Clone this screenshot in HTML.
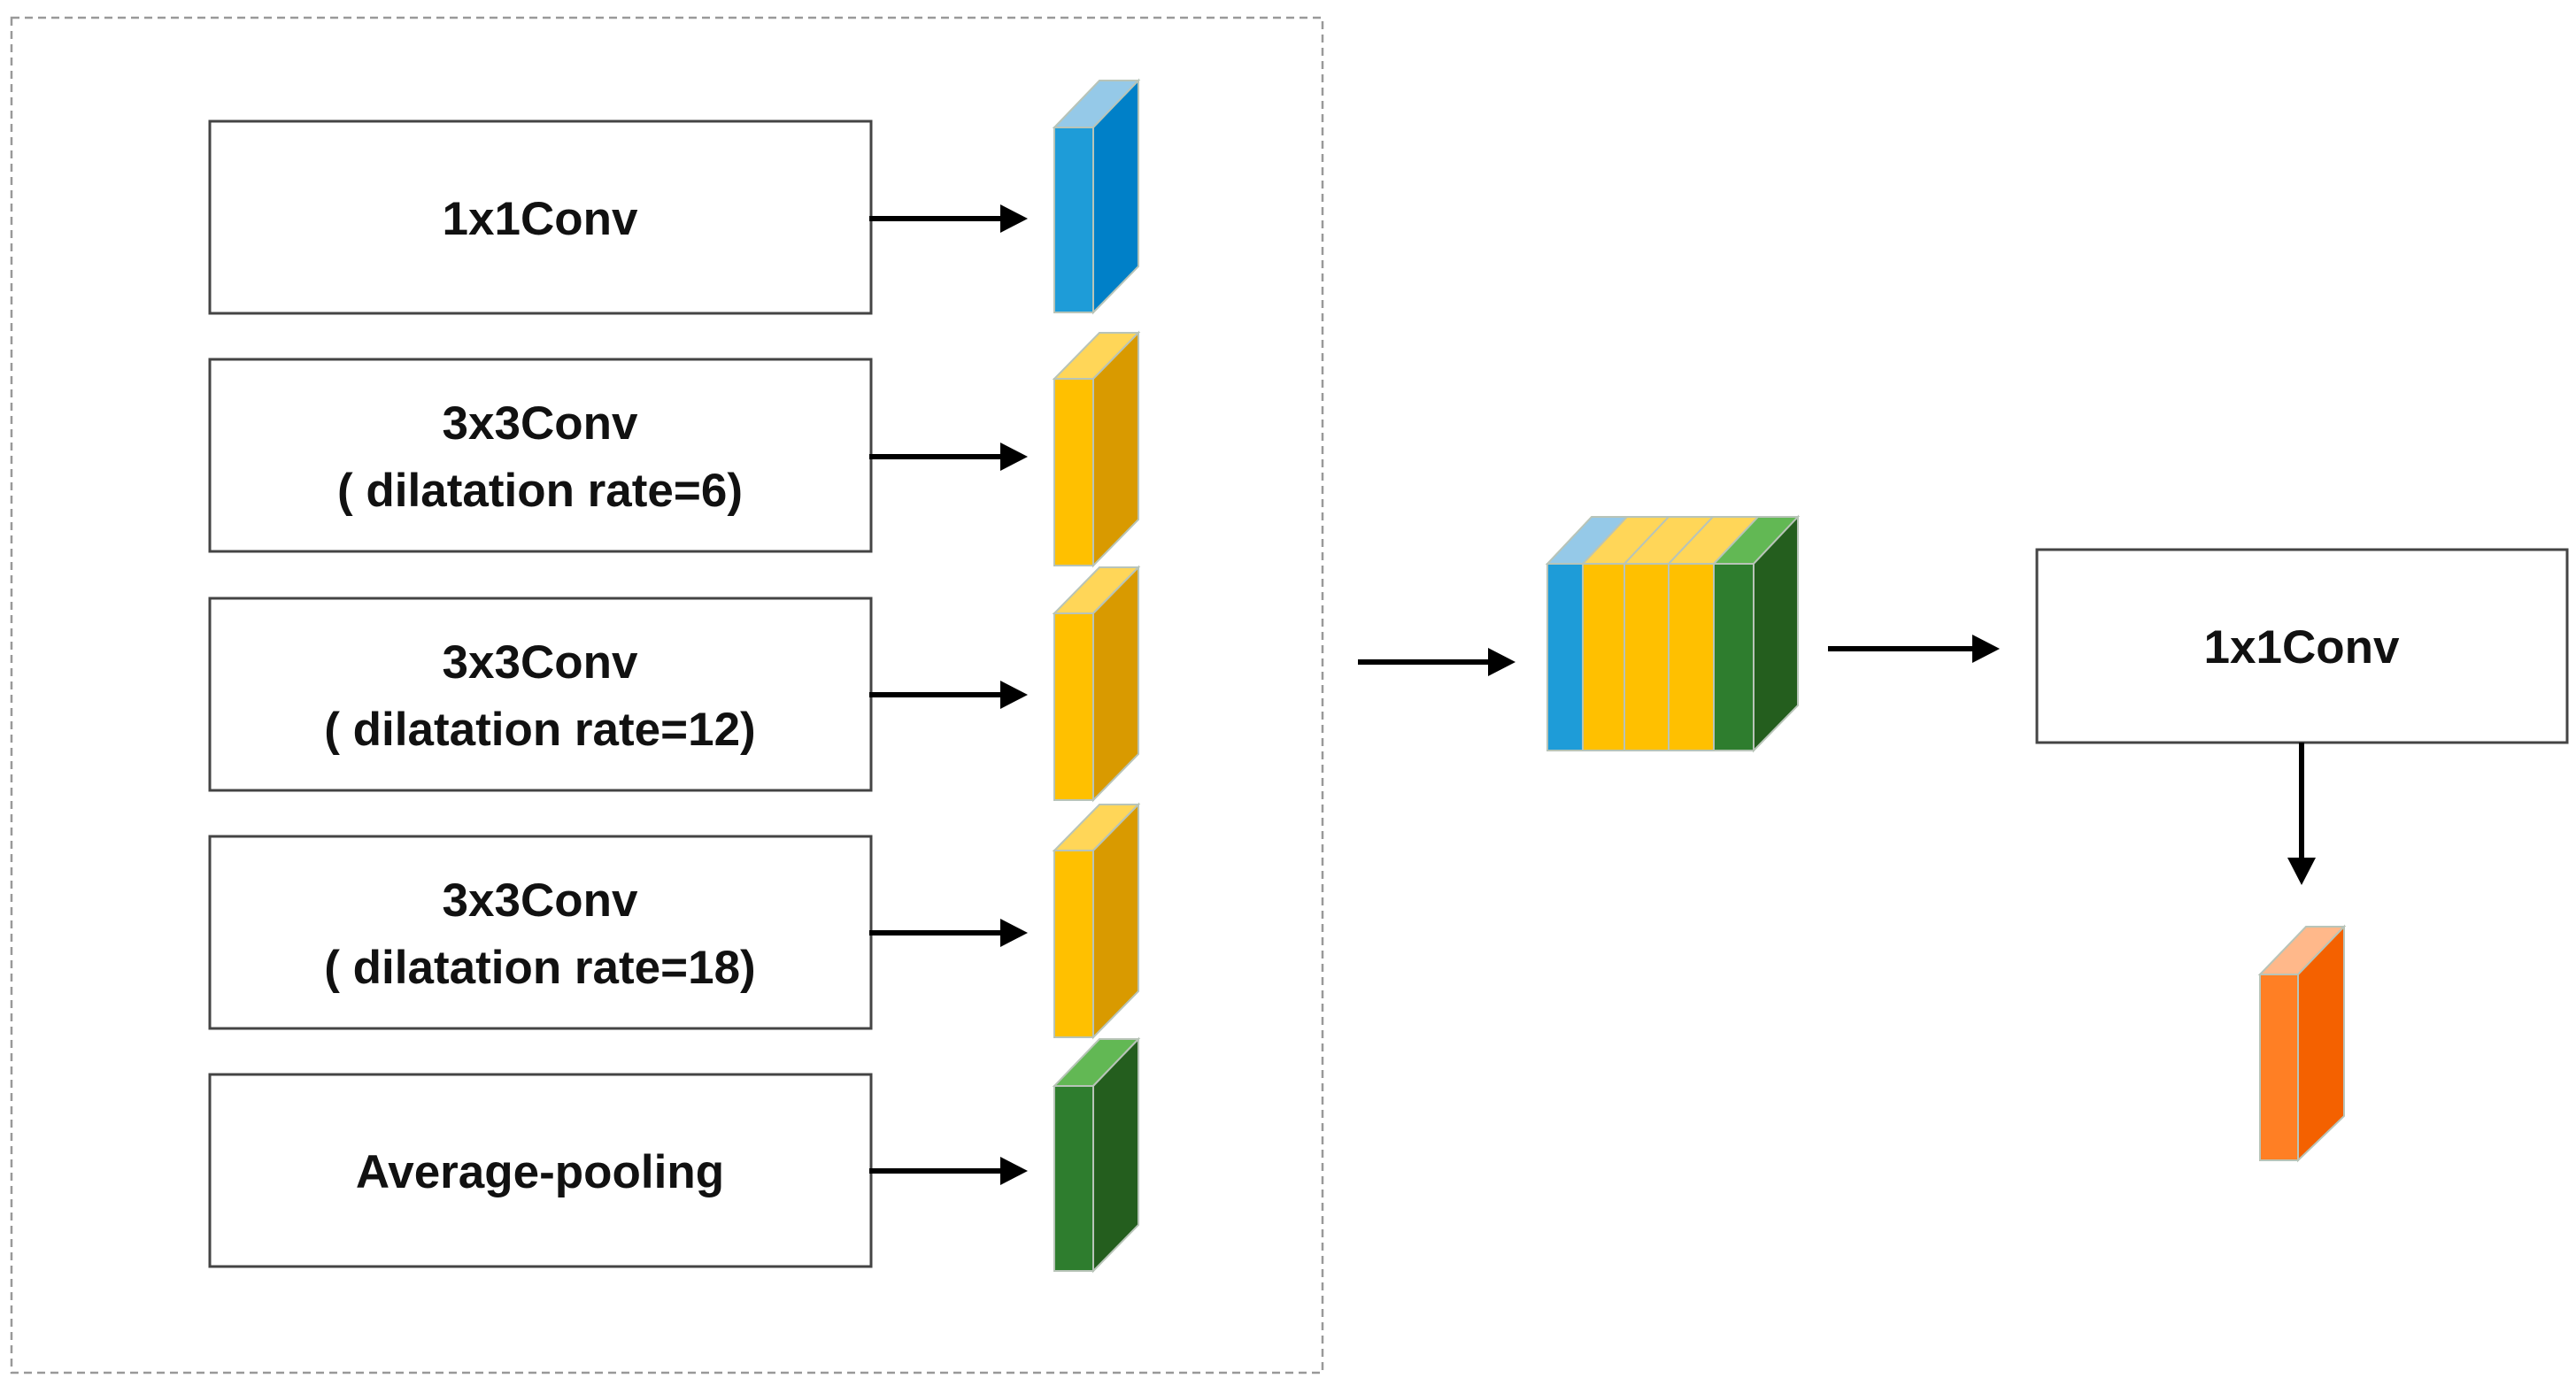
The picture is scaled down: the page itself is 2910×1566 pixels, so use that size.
<!DOCTYPE html>
<html><head><meta charset="utf-8"><style>
html,body{margin:0;padding:0;background:#fff;}
svg{display:block;}
text{font-family:"Liberation Sans",sans-serif;font-weight:bold;fill:#111;}
</style></head><body>
<svg width="2910" height="1566" viewBox="0 0 2910 1566" xmlns="http://www.w3.org/2000/svg">
<rect x="13" y="20" width="1481" height="1531" fill="none" stroke="#999" stroke-width="2.5" stroke-dasharray="9,6"/>

<g fill="#fff" stroke="#444" stroke-width="3">
<rect x="237" y="137" width="747" height="217"/>
<rect x="237" y="406" width="747" height="217"/>
<rect x="237" y="676" width="747" height="217"/>
<rect x="237" y="945" width="747" height="217"/>
<rect x="237" y="1214" width="747" height="217"/>
<rect x="2301" y="621" width="599" height="218"/>
</g>

<g font-size="53" text-anchor="middle">
<text x="610" y="265">1x1Conv</text>
<text x="610" y="496">3x3Conv</text>
<text x="610" y="572">( dilatation rate=6)</text>
<text x="610" y="766">3x3Conv</text>
<text x="610" y="842">( dilatation rate=12)</text>
<text x="610" y="1035">3x3Conv</text>
<text x="610" y="1111">( dilatation rate=18)</text>
<text x="610" y="1342">Average-pooling</text>
<text x="2600" y="749">1x1Conv</text>
</g>

<g stroke="#000" stroke-width="6" fill="none">
<line x1="982" y1="247" x2="1135" y2="247"/>
<line x1="982" y1="516" x2="1135" y2="516"/>
<line x1="982" y1="785" x2="1135" y2="785"/>
<line x1="982" y1="1054" x2="1135" y2="1054"/>
<line x1="982" y1="1323" x2="1135" y2="1323"/>
<line x1="1534" y1="748" x2="1685" y2="748"/>
<line x1="2065" y1="733" x2="2233" y2="733"/>
<line x1="2600" y1="839" x2="2600" y2="975"/>
</g>
<g fill="#000">
<polygon points="1161,247 1130,231 1130,263"/>
<polygon points="1161,516 1130,500 1130,532"/>
<polygon points="1161,785 1130,769 1130,801"/>
<polygon points="1161,1054 1130,1038 1130,1070"/>
<polygon points="1161,1323 1130,1307 1130,1339"/>
<polygon points="1712,748 1681,732 1681,764"/>
<polygon points="2259,733 2228,717 2228,749"/>
<polygon points="2600,1000 2584,969 2616,969"/>
</g>

<g stroke="#b8c4b8" stroke-width="2">
<g>
<polygon points="1191,144 1235,144 1286,91 1242,91" fill="#95C9E8"/>
<polygon points="1235,144 1286,91 1286,301 1235,353" fill="#0080C8"/>
<rect x="1191" y="144" width="44" height="209" fill="#1E9CD8"/>
</g>
<g>
<polygon points="1191,428 1235,428 1286,376 1242,376" fill="#FFD658"/>
<polygon points="1235,428 1286,376 1286,587 1235,639" fill="#D99A00"/>
<rect x="1191" y="428" width="44" height="211" fill="#FFC000"/>
</g>
<g>
<polygon points="1191,693 1235,693 1286,641 1242,641" fill="#FFD658"/>
<polygon points="1235,693 1286,641 1286,852 1235,904" fill="#D99A00"/>
<rect x="1191" y="693" width="44" height="211" fill="#FFC000"/>
</g>
<g>
<polygon points="1191,961 1235,961 1286,909 1242,909" fill="#FFD658"/>
<polygon points="1235,961 1286,909 1286,1120 1235,1172" fill="#D99A00"/>
<rect x="1191" y="961" width="44" height="211" fill="#FFC000"/>
</g>
<g>
<polygon points="1191,1227 1235,1227 1286,1174 1242,1174" fill="#62B854"/>
<polygon points="1235,1227 1286,1174 1286,1384 1235,1436" fill="#245E1E"/>
<rect x="1191" y="1227" width="44" height="209" fill="#2E7D2E"/>
</g>

<polygon points="1748,637 1788,637 1838,584 1798,584" fill="#95C9E8"/>
<polygon points="1788,637 1835,637 1885,584 1838,584" fill="#FFD658"/>
<polygon points="1835,637 1885,637 1935,584 1885,584" fill="#FFD658"/>
<polygon points="1885,637 1936,637 1986,584 1935,584" fill="#FFD658"/>
<polygon points="1936,637 1981,637 2031,584 1986,584" fill="#62B854"/>
<polygon points="1981,637 2031,584 2031,797 1981,848" fill="#245E1E"/>
<rect x="1748" y="637" width="40" height="211" fill="#1E9CD8"/>
<rect x="1788" y="637" width="47" height="211" fill="#FFC000"/>
<rect x="1835" y="637" width="50" height="211" fill="#FFC000"/>
<rect x="1885" y="637" width="51" height="211" fill="#FFC000"/>
<rect x="1936" y="637" width="45" height="211" fill="#2E7D2E"/>

<polygon points="2553,1101 2596,1101 2648,1047 2605,1047" fill="#FFB88A"/>
<polygon points="2596,1101 2648,1047 2648,1261 2596,1311" fill="#F46100"/>
<rect x="2553" y="1101" width="43" height="210" fill="#FF7F24"/>
</g>
</svg>
</body></html>
